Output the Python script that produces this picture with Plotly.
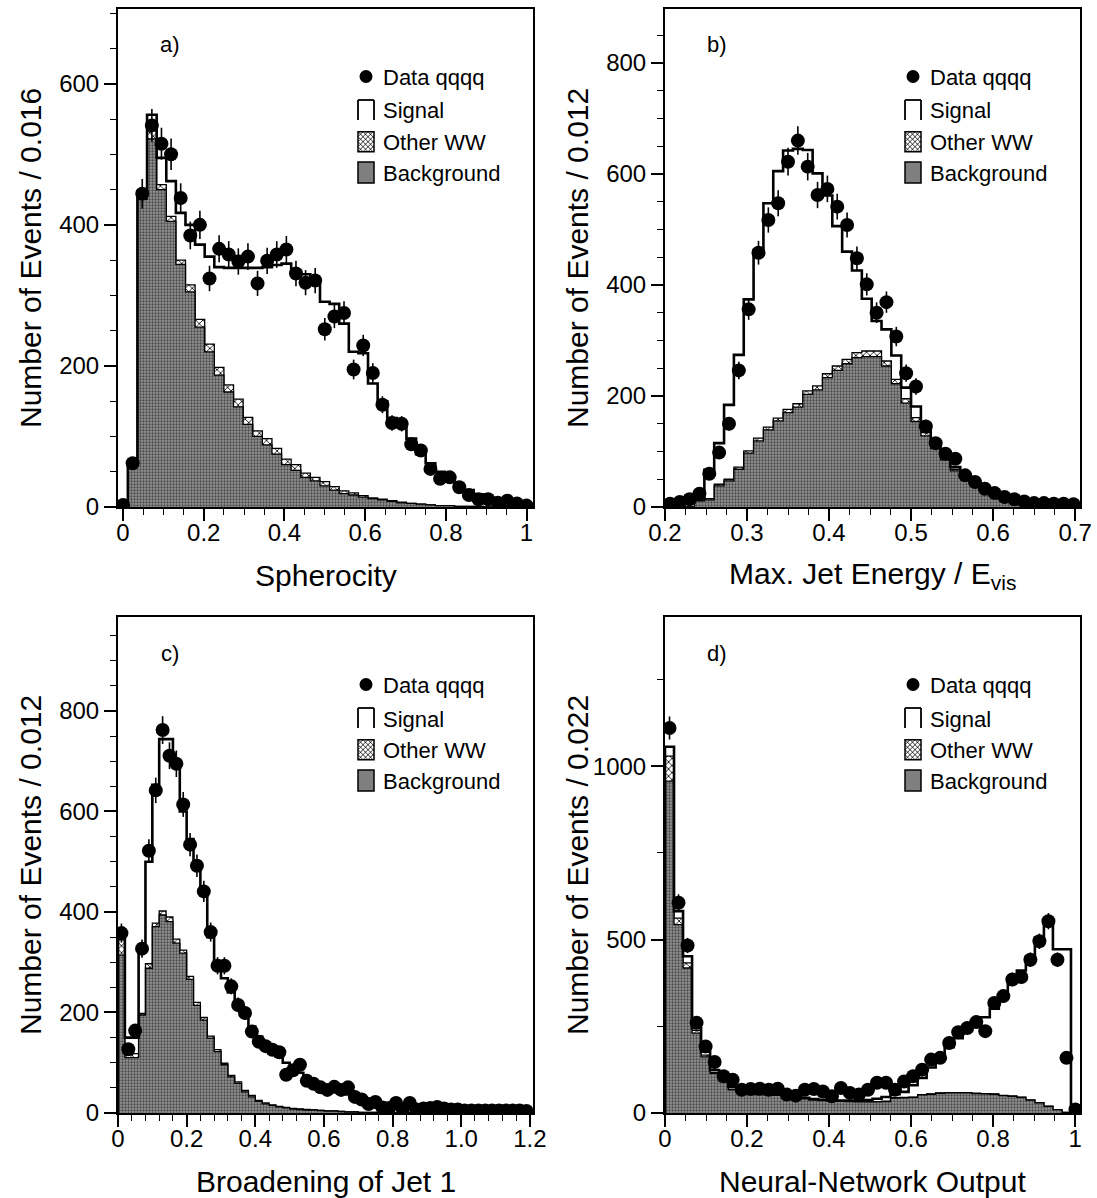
import numpy as np
import plotly.graph_objects as go

FONT = "Liberation Sans, Arial, Helvetica, sans-serif"

# ---------------- DATA ----------------
# a) Spherocity : 43 bins
a_bin_start = -1 / 84
a_bin_width = 1 / 42
a_data = [3, 62, 444, 541, 515, 500, 438, 385, 400, 324, 366, 358, 348, 355, 317,
          349, 358, 365, 331, 318, 321, 252, 270, 275, 195, 229, 190, 145, 119, 118,
          89, 80, 54, 40, 42, 28, 17, 11, 11, 6, 9, 5, 2]
a_signal = [0, 0, 6, 22, 38, 50, 67, 85, 106, 124, 142, 166, 186, 212, 231,
            243, 260, 277, 275, 282, 276, 255, 259, 237, 200, 202, 162, 139, 117, 109,
            92, 71, 59, 48, 36, 29, 23, 17, 14, 10, 7, 5, 3]
a_other = [0, 0, 6, 12, 7, 7, 6, 10, 11, 11, 11, 10, 11, 10, 8,
           9, 8, 8, 8, 6, 5, 6, 5, 4, 3, 2, 1, 1, 1, 1,
           0, 0, 0, 0, 0, 0, 0, 0, 0, 0, 0, 0, 0]
a_background = [0, 62, 436, 522, 450, 405, 344, 305, 255, 220, 187, 163, 142, 117, 100,
                88, 75, 60, 52, 42, 37, 30, 24, 19, 17, 14, 12, 10, 8, 6,
                5, 4, 3, 2, 2, 1, 1, 1, 0, 0, 0, 0, 0]

# b) Max. jet energy / Evis : 42 bins
b_bin_start = 0.2
b_bin_width = 0.012
b_data = [6, 9, 14, 24, 60, 98, 150, 246, 356, 458, 517, 547, 622, 660, 613,
          562, 573, 541, 508, 448, 401, 350, 369, 307, 241, 217, 145, 115, 96, 87,
          57, 45, 33, 25, 18, 14, 10, 7, 7, 6, 6, 5]
b_signal = [3, 5, 8, 4, 52, 74, 134, 202, 273, 339, 403, 445, 466, 459, 434,
            383, 321, 252, 194, 148, 94, 54, 57, 43, 20, 20, 16, 8, 4, 4,
            2, 2, 2, 1, 2, 2, 3, 2, 2, 2, 2, 1]
b_other = [0, 0, 0, 1, 2, 3, 3, 4, 4, 5, 5, 5, 6, 6, 6,
           7, 7, 8, 8, 9, 10, 10, 9, 8, 8, 7, 6, 5, 4, 3,
           3, 2, 2, 1, 1, 0, 0, 0, 0, 0, 0, 0]
b_background = [0, 0, 0, 11, 13, 38, 47, 68, 97, 119, 139, 155, 170, 180, 203,
                211, 233, 246, 258, 269, 271, 271, 254, 222, 187, 154, 128, 105, 85, 65,
                53, 42, 30, 22, 13, 8, 3, 2, 1, 0, 0, 0]

# c) Broadening of jet 1 : 60 bins
c_bin_start = 0.0
c_bin_width = 0.02
c_data = [358, 127, 164, 327, 522, 642, 762, 711, 695, 614, 534, 492, 441, 360, 293,
          293, 252, 215, 199, 162, 142, 133, 126, 121, 76, 85, 96, 64, 58, 51,
          46, 52, 46, 51, 32, 27, 18, 22, 11, 10, 20, 7, 20, 7, 9,
          10, 12, 9, 7, 7, 5, 5, 5, 5, 5, 5, 5, 5, 5, 4]
c_signal = [7, 32, 32, 136, 203, 275, 342, 354, 344, 276, 273, 280, 255, 197, 164,
            169, 165, 153, 150, 137, 127, 118, 108, 99, 89, 81, 72, 65, 58, 52,
            47, 42, 38, 35, 31, 28, 25, 22, 20, 18, 16, 14, 13, 12, 11,
            10, 9, 8, 8, 7, 7, 6, 6, 6, 5, 5, 5, 5, 4, 4]
c_other = [31, 8, 8, 3, 9, 7, 8, 9, 8, 6, 6, 6, 5, 4, 4,
           3, 3, 3, 3, 3, 2, 2, 1, 1, 1, 1, 1, 1, 0, 0,
           0, 0, 0, 0, 0, 0, 0, 0, 0, 0, 0, 0, 0, 0, 0,
           0, 0, 0, 0, 0, 0, 0, 0, 0, 0, 0, 0, 0, 0, 0]
c_background = [314, 110, 110, 195, 288, 371, 394, 381, 338, 318, 266, 214, 185, 149, 122,
                96, 72, 59, 42, 32, 23, 18, 15, 12, 10, 8, 7, 6, 6, 5,
                4, 4, 3, 2, 2, 1, 1, 1, 0, 0, 0, 0, 0, 0, 0,
                0, 0, 0, 0, 0, 0, 0, 0, 0, 0, 0, 0, 0, 0, 0]

# d) Neural-network output : 46 bins
d_bin_start = 0.0
d_bin_width = 0.022
d_data = [1110, 606, 483, 260, 192, 147, 106, 96, 67, 69, 70, 67, 70, 53, 50,
          67, 69, 62, 48, 72, 58, 53, 67, 87, 87, 67, 91, 106, 125, 154,
          159, 202, 233, 245, 262, 236, 317, 337, 385, 392, 442, 495, 553, 442, 159, 10]
d_signal = [27, 20, 19, 7, 10, 7, 6, 7, 4, 4, 3, 3, 3, 4, 2,
            2, 1, 1, 1, 1, 2, 3, 4, 8, 12, 10, 16, 34, 48, 76,
            103, 131, 157, 182, 202, 220, 246, 285, 327, 365, 413, 476, 521, 462, 470, 12]
d_other = [72, 19, 15, 8, 5, 3, 2, 2, 1, 1, 1, 1, 1, 1, 1,
           1, 1, 1, 1, 1, 1, 1, 1, 1, 1, 1, 1, 1, 1, 1,
           1, 1, 1, 1, 1, 1, 1, 1, 1, 1, 1, 1, 1, 0, 0, 0]
d_background = [957, 543, 418, 230, 162, 114, 92, 67, 58, 55, 53, 52, 51, 45, 43,
                41, 38, 36, 35, 34, 33, 32, 32, 32, 33, 43, 44, 45, 52, 54,
                57, 58, 58, 58, 56, 55, 54, 50, 48, 45, 37, 29, 19, 10, 2, 0]

# axis ticks / labels
a_xticks = [0, 0.2, 0.4, 0.6, 0.8, 1.0]
a_xlabels = ["0", "0.2", "0.4", "0.6", "0.8", "1"]
a_yticks = [0, 200, 400, 600]
b_xticks = [0.2, 0.3, 0.4, 0.5, 0.6, 0.7]
b_xlabels = ["0.2", "0.3", "0.4", "0.5", "0.6", "0.7"]
b_yticks = [0, 200, 400, 600, 800]
c_xticks = [0, 0.2, 0.4, 0.6, 0.8, 1.0, 1.2]
c_xlabels = ["0", "0.2", "0.4", "0.6", "0.8", "1.0", "1.2"]
c_yticks = [0, 200, 400, 600, 800]
d_xticks = [0, 0.2, 0.4, 0.6, 0.8, 1.0]
d_xlabels = ["0", "0.2", "0.4", "0.6", "0.8", "1"]
d_yticks = [0, 500, 1000]

legend_labels = ["Data qqqq", "Signal", "Other WW", "Background"]

# ---------------- FIGURE ----------------
W, H = 1097, 1198
fig = go.Figure()

panels = [
    dict(tag="a)", xa="x", ya="y", px=(118, 533), py=(9, 507),
         start=a_bin_start, width=a_bin_width, data=a_data, sig=a_signal, oth=a_other, bg=a_background,
         xr=[-0.0125, 1.016], yr=[0, 706], xt=a_xticks, xl=a_xlabels, xminor=(0, 0.05),
         yt=a_yticks, yminor=50, xtitle="Spherocity", ytitle="Number of Events / 0.016"),
    dict(tag="b)", xa="x2", ya="y2", px=(665, 1080), py=(9, 507),
         start=b_bin_start, width=b_bin_width, data=b_data, sig=b_signal, oth=b_other, bg=b_background,
         xr=[0.2, 0.706], yr=[0, 897], xt=b_xticks, xl=b_xlabels, xminor=(0.2, 0.025),
         yt=b_yticks, yminor=50, xtitle="Max. Jet Energy / E<sub>vis</sub>", ytitle="Number of Events / 0.012"),
    dict(tag="c)", xa="x3", ya="y3", px=(118, 533), py=(617, 1113),
         start=c_bin_start, width=c_bin_width, data=c_data, sig=c_signal, oth=c_other, bg=c_background,
         xr=[0, 1.209], yr=[0, 987], xt=c_xticks, xl=c_xlabels, xminor=(0, 0.04),
         yt=c_yticks, yminor=50, xtitle="Broadening of Jet 1", ytitle="Number of Events / 0.012"),
    dict(tag="d)", xa="x4", ya="y4", px=(665, 1080), py=(617, 1113),
         start=d_bin_start, width=d_bin_width, data=d_data, sig=d_signal, oth=d_other, bg=d_background,
         xr=[0, 1.012], yr=[0, 1430], xt=d_xticks, xl=d_xlabels, xminor=(0, 0.05),
         yt=d_yticks, yminor=250, xtitle="Neural-Network Output", ytitle="Number of Events / 0.022"),
]


def step_xy(start, width, vals):
    vals = np.asarray(vals, dtype=float)
    n = len(vals)
    edges = start + width * np.arange(n + 1)
    x = np.concatenate([[edges[0]], edges, [edges[-1]]])
    y = np.concatenate([[0.0], vals, [vals[-1], 0.0]])
    return x, y


shapes = []
annotations = []
layout_axes = {}

for i, p in enumerate(panels):
    bg = np.asarray(p["bg"], float)
    oth = np.asarray(p["oth"], float)
    sig = np.asarray(p["sig"], float)
    lvl_bg = bg
    lvl_ow = bg + oth
    lvl_tot = bg + oth + sig

    # Other WW (crosshatched) layer
    x, y = step_xy(p["start"], p["width"], lvl_ow)
    fig.add_trace(go.Scatter(x=x, y=y, xaxis=p["xa"], yaxis=p["ya"], mode="lines",
                             line=dict(color="black", width=1.3, shape="hv"),
                             fill="tozeroy", fillcolor="white",
                             fillpattern=dict(shape="x", fgcolor="black", bgcolor="white",
                                              size=5, solidity=0.3),
                             showlegend=False, hoverinfo="skip"))
    # Background layer
    x, y = step_xy(p["start"], p["width"], lvl_bg)
    fig.add_trace(go.Scatter(x=x, y=y, xaxis=p["xa"], yaxis=p["ya"], mode="lines",
                             line=dict(color="black", width=1.3, shape="hv"),
                             fill="tozeroy", fillcolor="#858585",
                             fillpattern=dict(shape=".", fgcolor="#4a4a4a", bgcolor="#959595",
                                              size=3, solidity=0.45),
                             showlegend=False, hoverinfo="skip"))
    # Total (signal) outline
    x, y = step_xy(p["start"], p["width"], lvl_tot)
    fig.add_trace(go.Scatter(x=x, y=y, xaxis=p["xa"], yaxis=p["ya"], mode="lines",
                             line=dict(color="black", width=2.6, shape="hv"),
                             showlegend=False, hoverinfo="skip"))
    # Data points
    centers = p["start"] + p["width"] * (np.arange(len(p["data"])) + 0.5)
    fig.add_trace(go.Scatter(x=centers, y=p["data"], xaxis=p["xa"], yaxis=p["ya"], mode="markers",
                             marker=dict(color="black", size=14, symbol="circle"),
                             error_y=dict(type="sqrt", color="black", thickness=1.6, width=0),
                             showlegend=False, hoverinfo="skip"))

    x0, x1 = p["px"]
    y0, y1 = p["py"]
    xd = [x0 / W, x1 / W]
    yd = [1 - y1 / H, 1 - y0 / H]
    sfx = "" if i == 0 else str(i + 1)
    common = dict(showline=True, linecolor="black", linewidth=2, mirror=True,
                  ticks="outside", ticklen=12, tickwidth=1.6, tickcolor="black",
                  showgrid=False, zeroline=False, automargin=False,
                  tickfont=dict(family=FONT, size=24, color="black"))
    layout_axes["xaxis" + sfx] = dict(common, domain=xd, anchor="y" + sfx, range=p["xr"],
                                      tickmode="array", tickvals=p["xt"], ticktext=p["xl"],
                                      ticklabelstandoff=-9,
                                      minor=dict(tickmode="linear", tick0=p["xminor"][0], dtick=p["xminor"][1],
                                                 ticks="outside", ticklen=6, tickwidth=1.4,
                                                 tickcolor="black", showgrid=False))
    layout_axes["yaxis" + sfx] = dict(common, domain=yd, anchor="x" + sfx, range=p["yr"],
                                      tickmode="array", tickvals=p["yt"],
                                      minor=dict(tickmode="linear", tick0=0, dtick=p["yminor"],
                                                 ticks="outside", ticklen=6, tickwidth=1.4,
                                                 tickcolor="black", showgrid=False))

    pw, ph = x1 - x0, y1 - y0
    xref = p["xa"] + " domain"
    yref = p["ya"] + " domain"

    def fx(dx):
        return dx / pw

    def fy(dy):
        return 1 - dy / ph

    # panel tag
    annotations.append(dict(text=p["tag"], x=fx(52), y=fy(36), xref=xref, yref=yref,
                            showarrow=False, xanchor="center", yanchor="middle",
                            font=dict(family=FONT, size=22, color="black")))
    # axis titles
    annotations.append(dict(text=p["xtitle"], x=(x0 + x1) / 2 / W, y=1 - (y1 + 68) / H,
                            xref="paper", yref="paper", showarrow=False,
                            xanchor="center", yanchor="middle",
                            font=dict(family=FONT, size=30, color="black")))
    annotations.append(dict(text=p["ytitle"], x=(x0 - 88) / W, y=1 - (y0 + y1) / 2 / H,
                            xref="paper", yref="paper", showarrow=False, textangle=-90,
                            xanchor="center", yanchor="middle",
                            font=dict(family=FONT, size=30, color="black")))

    # legend
    rows = [67.5, 101, 132.7, 163.5]
    sx0, sx1 = 240, 256
    for lbl, ry in zip(legend_labels, rows):
        annotations.append(dict(text=lbl, x=fx(263), y=fy(ry + 1), xref=xref, yref=yref,
                                showarrow=False, xanchor="left", yanchor="middle",
                                font=dict(family=FONT, size=22, color="black")))
    # data symbol
    cx, cy, r = 248, rows[0], 6.5
    shapes.append(dict(type="circle", xref=xref, yref=yref, x0=fx(cx - r), x1=fx(cx + r),
                       y0=fy(cy + r), y1=fy(cy - r), fillcolor="black", line=dict(color="black", width=0)))
    # signal symbol (open bottom)
    ty, by = rows[1] - 10, rows[1] + 10
    for (ax, ay, bx, byy) in [(sx0, by, sx0, ty), (sx0, ty, sx1, ty), (sx1, ty, sx1, by)]:
        shapes.append(dict(type="line", xref=xref, yref=yref, x0=fx(ax), y0=fy(ay), x1=fx(bx), y1=fy(byy),
                           line=dict(color="black", width=1.8)))
    # other WW symbol : cross-hatched box
    ty, by = rows[2] - 10, rows[2] + 10
    bw, bh = sx1 - sx0, by - ty
    step = 5.0
    for sgn in (1, -1):
        c = -bh
        while c < bw + bh:
            pts = []
            for u in np.linspace(0, bw, 200):
                v = (u - c) if sgn == 1 else (c - u)
                if 0 <= v <= bh:
                    pts.append((u, v))
            if len(pts) >= 2:
                (ua, va), (ub, vb) = pts[0], pts[-1]
                shapes.append(dict(type="line", xref=xref, yref=yref,
                                   x0=fx(sx0 + ua), y0=fy(ty + va), x1=fx(sx0 + ub), y1=fy(ty + vb),
                                   line=dict(color="black", width=0.8)))
            c += step
    shapes.append(dict(type="rect", xref=xref, yref=yref, x0=fx(sx0), x1=fx(sx1),
                       y0=fy(by), y1=fy(ty), line=dict(color="black", width=1.5)))
    # background symbol
    ty, by = rows[3] - 10.5, rows[3] + 10.5
    shapes.append(dict(type="rect", xref=xref, yref=yref, x0=fx(sx0), x1=fx(sx1),
                       y0=fy(by), y1=fy(ty), fillcolor="#7f7f7f", line=dict(color="black", width=1.5)))

fig.update_layout(template="none", width=W, height=H, margin=dict(l=0, r=0, t=0, b=0, autoexpand=False),
                  paper_bgcolor="white", plot_bgcolor="white",
                  font=dict(family=FONT, color="black"),
                  showlegend=False, shapes=shapes, annotations=annotations, **layout_axes)

fig.write_html("out.html", config={"displayModeBar": False},
               post_script="document.body.style.margin='0px';document.body.style.padding='0px';"
                           "document.body.style.overflow='hidden';")
